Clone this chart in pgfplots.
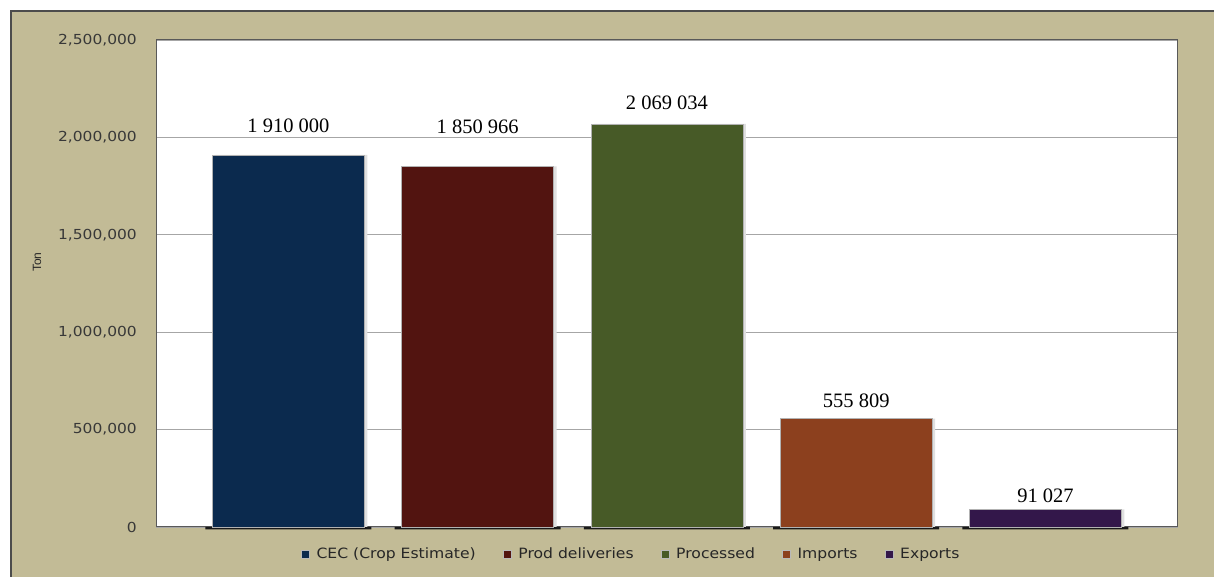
\documentclass[border=0pt]{standalone}
\usepackage{pgfplots}
\pgfplotsset{compat=1.18}
\usepackage{fontspec}
\setmainfont{Liberation Sans}
\newfontfamily\datafont{Liberation Serif}
\newfontfamily\tickfont[FakeStretch=1.12]{DejaVu Sans}
\newfontfamily\legfont[FakeStretch=1.1]{DejaVu Sans}
\newfontfamily\labfont{Liberation Sans}
\definecolor{tan}{HTML}{C2BB96}
\definecolor{cec}{HTML}{0B2A4E}
\definecolor{prod}{HTML}{521410}
\definecolor{proc}{HTML}{475A27}
\definecolor{imp}{HTML}{8C401E}
\definecolor{exp}{HTML}{33174A}
\definecolor{ticktext}{HTML}{383838}
\begin{document}
\begin{tikzpicture}
\path[use as bounding box, fill=white] (0bp,0bp) rectangle (1214bp,577bp);
\fill[tan] (11bp,0bp) rectangle (1214bp,566bp);
\draw[black!70, line width=1.2bp] (11bp,0bp) -- (11bp,566bp) -- (1214bp,566bp);
\begin{axis}[
  at={(156bp,50bp)}, anchor=south west,
  scale only axis, width=1022bp, height=487bp,
  xmin=-0.7, xmax=4.7, ymin=0, ymax=2500000,
  clip=false,
  axis background/.style={fill=white},
  axis line style={draw=black!65, line width=1bp},
  xtick=\empty,
  ytick={0,500000,1000000,1500000,2000000,2500000},
  scaled y ticks=false,
  major tick length=0pt,
  ymajorgrids,
  major grid style={draw=black!35, line width=0.8bp},
  yticklabel style={font=\tickfont\fontsize{13.8bp}{16bp}\selectfont, text=ticktext, anchor=east, inner xsep=0pt, xshift=-19bp},
  /pgf/number format/.cd, fixed, 1000 sep={,}, assume math mode=true, /pgfplots/.cd,
  ylabel={\labfont\fontsize{12bp}{14bp}\selectfont Ton},
  ylabel style={at={(axis description cs:-0.1164,0.544)}, anchor=center, text=black!85},
  ybar, bar width=152bp, bar shift=0pt,
  nodes near coords={\datafont\fontsize{20.5bp}{24bp}\selectfont\pgfmathprintnumber[fixed,1000 sep={\ },assume math mode=true]{\pgfplotspointmeta}},
  nodes near coords style={anchor=base, text=black},
  legend columns=5,
  legend style={at={(0.465,-0.0554)}, anchor=center, draw=none, fill=none,
    font=\legfont\fontsize{14.2bp}{16bp}\selectfont, text=black!85,
    /tikz/every even column/.append style={column sep=25bp},
    /tikz/every odd column/.append style={column sep=5bp}},
]
% black base segments under the bars
\addplot[forget plot, fill=black!90, draw=none, bar width=166bp, nodes near coords={}] coordinates {(0,-12000) (1,-12000) (2,-12000) (3,-12000) (4,-12000)};
% shadows
\addplot[forget plot, fill=black!12, draw=none, bar shift=3bp, nodes near coords={}] coordinates {(0,1910000) (1,1850966) (2,2069034) (3,555809) (4,91027)};
\addplot[fill=cec, draw=gray!60, line width=0.8bp, nodes near coords style={yshift=22bp}, legend image code/.code={\draw[fill=cec, draw=gray!55, line width=0.6bp] (0bp,-4bp) rectangle (8bp,4bp);}] coordinates {(0,1910000)};
\addlegendentry{CEC (Crop Estimate)}
\addplot[fill=prod, draw=gray!60, line width=0.8bp, nodes near coords style={yshift=33bp}, legend image code/.code={\draw[fill=prod, draw=gray!55, line width=0.6bp] (0bp,-4bp) rectangle (8bp,4bp);}] coordinates {(1,1850966)};
\addlegendentry{Prod deliveries}
\addplot[fill=proc, draw=gray!60, line width=0.8bp, nodes near coords style={yshift=14bp}, legend image code/.code={\draw[fill=proc, draw=gray!55, line width=0.6bp] (0bp,-4bp) rectangle (8bp,4bp);}] coordinates {(2,2069034)};
\addlegendentry{Processed}
\addplot[fill=imp, draw=gray!60, line width=0.8bp, nodes near coords style={yshift=11bp}, legend image code/.code={\draw[fill=imp, draw=gray!55, line width=0.6bp] (0bp,-4bp) rectangle (8bp,4bp);}] coordinates {(3,555809)};
\addlegendentry{Imports}
\addplot[fill=exp, draw=gray!60, line width=0.8bp, nodes near coords style={yshift=7bp}, legend image code/.code={\draw[fill=exp, draw=gray!55, line width=0.6bp] (0bp,-4bp) rectangle (8bp,4bp);}] coordinates {(4,91027)};
\addlegendentry{Exports}
\end{axis}
\end{tikzpicture}
\end{document}
